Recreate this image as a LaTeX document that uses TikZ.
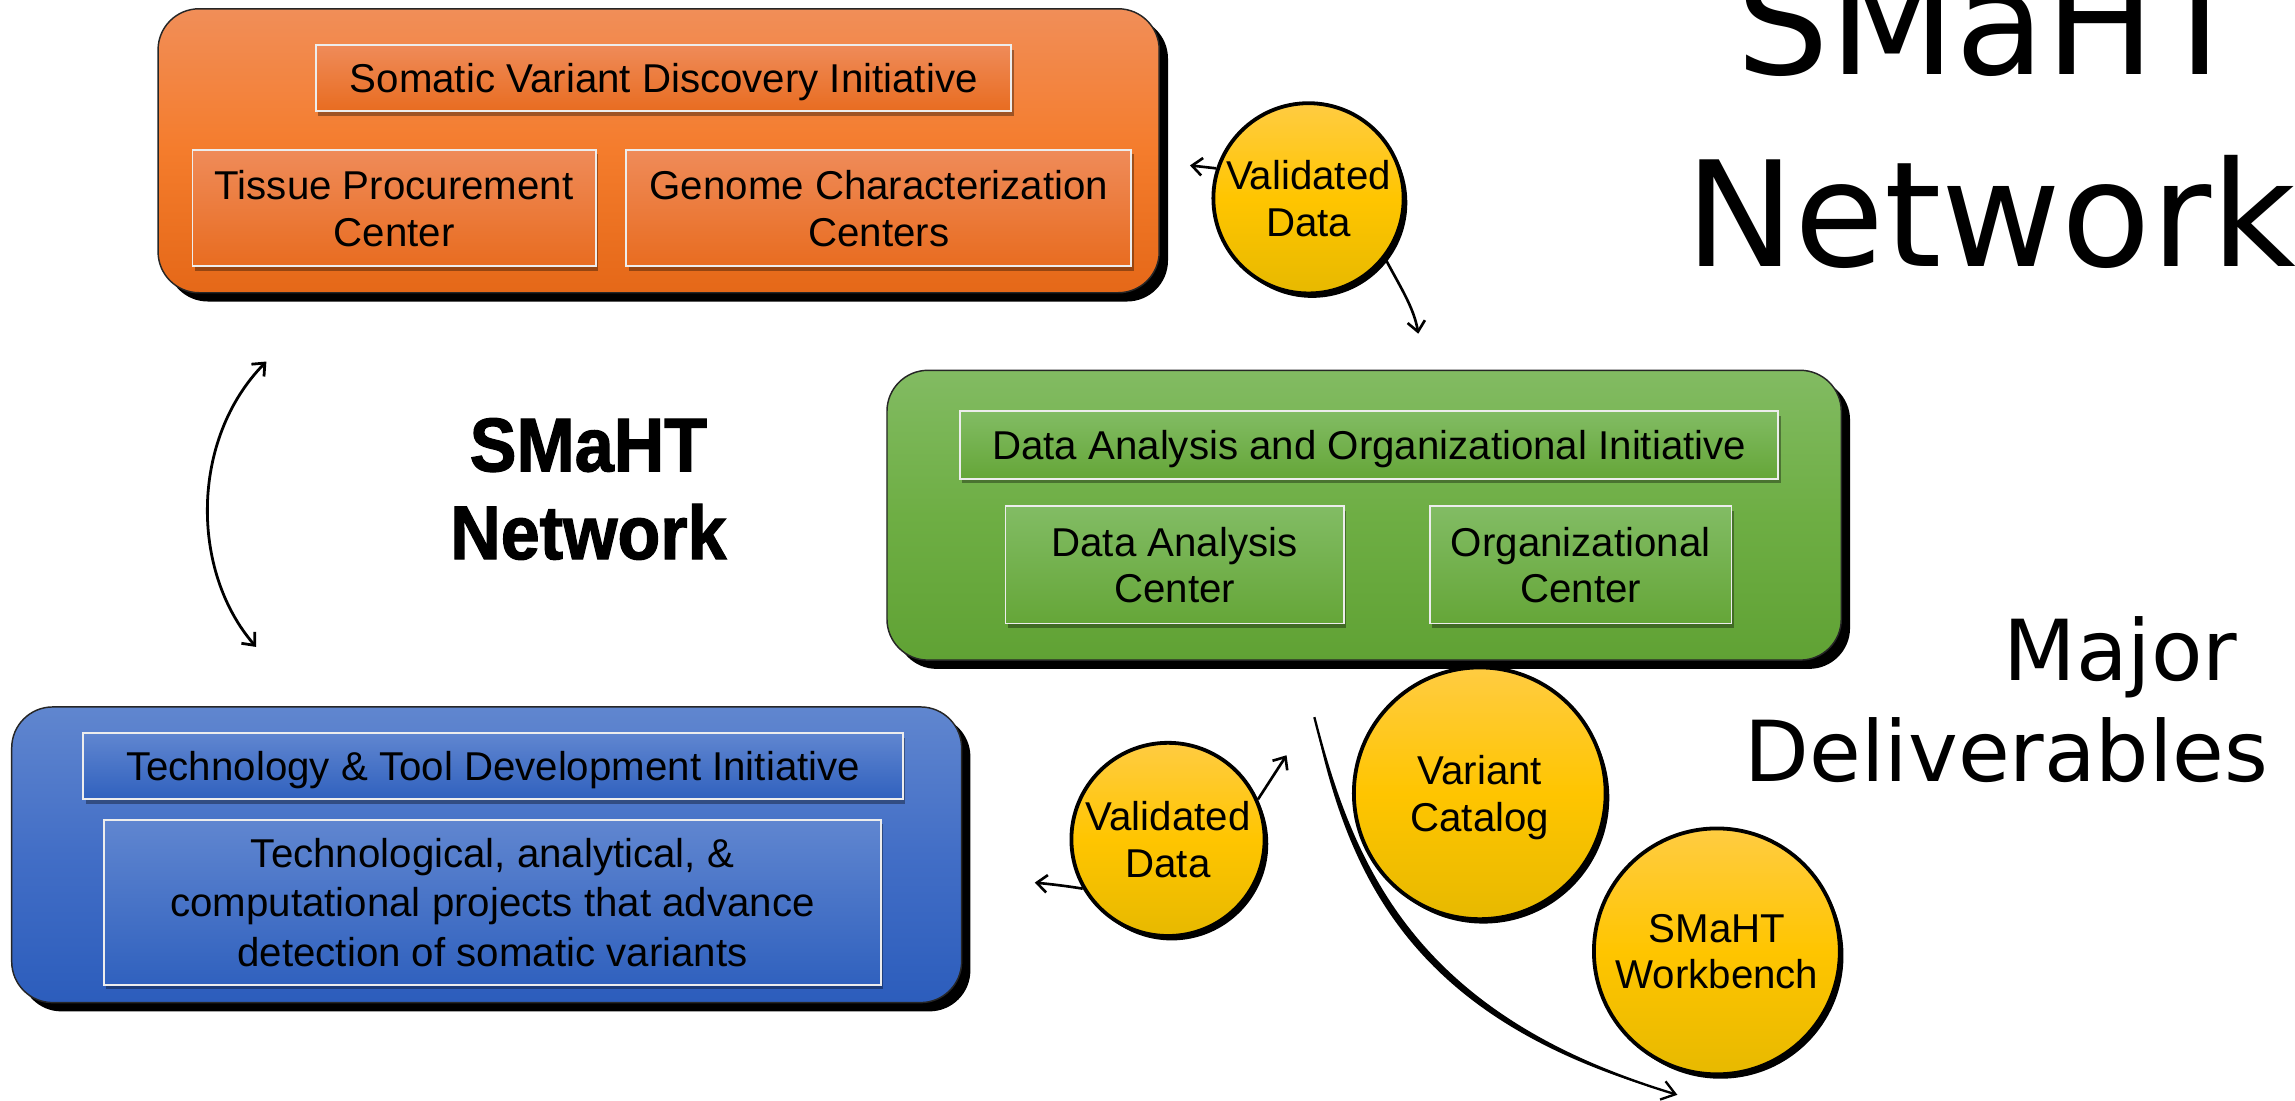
\documentclass[tikz,border=0pt]{standalone}
\usepackage{fontspec}
\setmainfont{Liberation Sans}
\newfontfamily\dvs{DejaVu Sans}
\newfontfamily\netfont[FakeStretch=0.92,FakeBold=1.6]{Liberation Sans}
\usetikzlibrary{arrows.meta,shadows}

\definecolor{orTop}{RGB}{241,142,88}
\definecolor{orMid}{RGB}{244,124,44}
\definecolor{orBot}{RGB}{229,104,24}
\definecolor{orITop}{RGB}{239,139,89}
\definecolor{orIBot}{RGB}{232,108,32}
\definecolor{grTop}{RGB}{130,187,98}
\definecolor{grMid}{RGB}{110,174,68}
\definecolor{grBot}{RGB}{96,162,52}
\definecolor{grITop}{RGB}{130,188,100}
\definecolor{grIBot}{RGB}{101,166,56}
\definecolor{blTop}{RGB}{96,134,207}
\definecolor{blMid}{RGB}{66,110,198}
\definecolor{blBot}{RGB}{44,93,188}
\definecolor{blITop}{RGB}{96,134,208}
\definecolor{blIBot}{RGB}{48,97,190}
\definecolor{yeTop}{RGB}{255,204,66}
\definecolor{yeMid}{RGB}{255,197,0}
\definecolor{yeBot}{RGB}{231,185,0}

\begin{document}
\begin{tikzpicture}[x=1pt,y=-1pt,
  mainbox/.style={rectangle, rounded corners=28pt, draw=black!85, line width=1pt, inner sep=0pt,
     drop shadow={shadow xshift=6pt, shadow yshift=-6pt, opacity=1, fill=black}},
  orangemain/.style={mainbox, top color=orTop, bottom color=orBot, middle color=orMid},
  greenmain/.style={mainbox, top color=grTop, bottom color=grBot, middle color=grMid},
  bluemain/.style={mainbox, top color=blTop, bottom color=blBot, middle color=blMid},
  subbox/.style={rectangle, draw=white!93!black, line width=1.3pt, inner sep=0pt, align=center,
     text depth=0pt, font=\fontsize{27.5}{32}\selectfont,
     drop shadow={shadow xshift=1.5pt, shadow yshift=-3pt, opacity=0.35, fill=black}},
  orangesub/.style={subbox, top color=orITop, bottom color=orIBot},
  greensub/.style={subbox, top color=grITop, bottom color=grIBot},
  bluesub/.style={subbox, top color=blITop, bottom color=blIBot},
  ball/.style={circle, draw=black, line width=2.6pt, inner sep=0pt, align=center, text depth=0pt,
     font=\fontsize{27.5}{32}\selectfont,
     top color=yeTop, bottom color=yeBot, middle color=yeMid,
     drop shadow={shadow xshift=2.5pt, shadow yshift=-3pt, opacity=1, fill=black}},
  flow/.style={line width=1.8pt, -{Straight Barb[length=7pt,width=12pt]}},
  flowboth/.style={line width=1.9pt, {Straight Barb[length=7pt,width=12pt]}-{Straight Barb[length=7pt,width=12pt]}},
  nettext/.style={text width=300pt, align=center, anchor=base, inner sep=0pt,
      font=\netfont\bfseries\fontsize{52}{60}\selectfont},
]
\useasboundingbox (0,0) rectangle (1568,752.2);
\clip (0,0) rectangle (1568,752.2);

% main boxes
\node[orangemain, minimum width=684pt, minimum height=194pt] (orange) at (450,103) {};
\node[greenmain, minimum width=652pt, minimum height=198pt] (green) at (932,352) {};
\node[bluemain, minimum width=649pt, minimum height=202pt] (blue) at (332.5,584) {};

% orange contents
\node[orangesub, minimum width=475pt, minimum height=45pt] (svdi) at (453.5,53.5) {Somatic Variant Discovery Initiative};
\node[orangesub, minimum width=275.5pt, minimum height=79.5pt] (tpc) at (269.25,142.25) {Tissue Procurement\\Center};
\node[orangesub, minimum width=345pt, minimum height=79.5pt] (gcc) at (600.5,142.25) {Genome Characterization\\Centers};

% green contents
\node[greensub, minimum width=559pt, minimum height=46pt] (daoi) at (935.5,304) {Data Analysis and Organizational Initiative};
\node[greensub, minimum width=231pt, minimum height=80pt] (dac) at (802.5,386) {Data Analysis\\Center};
\node[greensub, minimum width=206pt, minimum height=80pt] (orgc) at (1080,386) {Organizational\\Center};

% blue contents
\node[bluesub, minimum width=560pt, minimum height=45pt] (ttdi) at (337,523.5) {Technology \& Tool Development Initiative};
\node[bluesub, minimum width=531pt, minimum height=113pt, font=\fontsize{27.5}{34}\selectfont] (tech) at (336.5,616.5)
  {Technological, analytical, \&\\computational projects that advance\\detection of somatic variants};

% circles
\node[ball, minimum size=130pt] (vd1) at (894,135.5) {Validated\\Data};
\node[ball, minimum size=132pt] (vd2) at (798,573.5) {Validated\\Data};
\node[ball, minimum size=172pt] (vc) at (1011,542) {Variant\\Catalog};
\node[ball, minimum size=168pt] (wb) at (1173,650) {SMaHT\\Workbench};

% titles
\node[text width=700pt, align=center, anchor=base, inner sep=0pt,
      font=\dvs\fontsize{100}{131}\selectfont] (toptitle) at (1360,51) {SMaHT\\Network};
\node[text width=500pt, align=right, anchor=base east, inner sep=0pt,
      font=\dvs\fontsize{57.5}{69}\selectfont] (deliv) at (1550,465) {Major\kern0.37em\\Deliverables};
\node[nettext] (network) at (402,322) {SMaHT\\Network};

% connectors
\coordinate (oTip) at (813,113);
\coordinate (gTip) at (969,228);
\coordinate (gTip2) at (879,516);
\coordinate (bTip) at (707,603);
\coordinate (dTop) at (182,247);
\coordinate (dBot) at (175,442);
\coordinate (cStart) at (898,490);
\coordinate (cEnd) at (1146,748);

\draw[flow] (vd1.162) -- (oTip);
\draw[flow] (vd1.322) .. controls +(10,19) and +(-3,-18) .. (gTip);
\draw[flow] (vd2.24) -- (gTip2);
\draw[flow] (vd2.210) .. controls +(-12,-2) and +(10,1) .. (bTip);
\draw[flowboth] (dTop) .. controls (130,300) and (130,390) .. (dBot);

\fill (cStart) .. controls (925,597) and (970,695) .. (cEnd)
      .. controls (966,699) and (921,601) .. (cStart) -- cycle;
\draw[line width=1.6pt, -{Straight Barb[length=9pt,width=13pt,line width=1.6pt]}]
      (cStart) .. controls (925,597) and (970,695) .. (cEnd);
\end{tikzpicture}
\end{document}
